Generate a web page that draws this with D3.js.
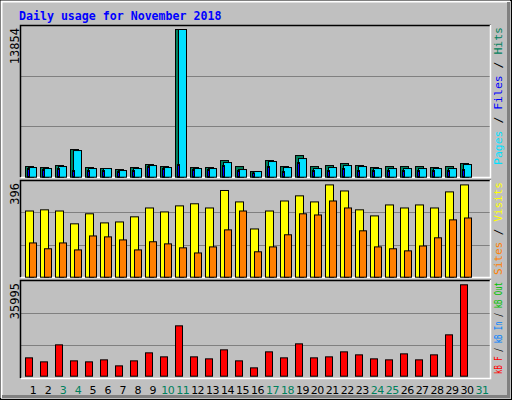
<!DOCTYPE html>
<html><head><meta charset="utf-8">
<script src="https://cdn.jsdelivr.net/npm/d3@7"></script>
<style>body{margin:0;background:#fff}</style>
</head><body>
<svg id="c" width="512" height="400"></svg>
<script>
const days = d3.range(1, 32);
const weekend = [3,4,10,11,17,18,24,25,31];
const hits  = [1000,907,1094,2595,907,813,719,907,1188,1000,13854,907,907,1563,1000,532,1563,1000,2033,1000,1094,1282,1094,907,1000,1000,1000,907,1000,1282];
const files = [907,813,1000,2500,813,813,625,813,1094,907,13854,813,813,1375,719,532,1470,907,1750,813,907,1094,1000,813,813,813,813,813,813,1188];
const pages = [813,719,813,625,625,625,532,625,1000,813,1188,719,719,1094,625,400,1000,530,1375,625,625,813,625,625,625,625,625,625,625,720];
const visits= [284,289,284,229,272,233,237,259,297,280,306,315,297,372,323,207,284,327,349,323,396,370,289,263,310,297,310,297,366,396];
const sites = [147,122,147,117,177,173,160,117,152,143,126,104,130,203,284,109,130,182,272,267,327,297,199,130,122,113,134,169,246,254];
const kbytes= [7227,5650,12350,6044,5650,6437,4073,6044,9197,7620,19837,7620,6832,10380,6044,3285,9590,7227,12744,7227,7620,9590,8408,6832,6437,8802,6437,8408,16290,35995];
const maxLabels = ["13854","396","35995"];

const svg = d3.select("#c");
const mono = "DejaVu Sans Mono, monospace";
svg.append("rect").attr("x",0.5).attr("y",0.5).attr("width",511).attr("height",399).attr("fill","#c0c0c0").attr("stroke","#000");
svg.append("path").attr("d","M1.5,398 V1.5 H510").attr("stroke","#fff").attr("stroke-width",2).attr("fill","none");
svg.append("path").attr("d","M2,396.5 H508.5 V2").attr("stroke","#808080").attr("stroke-width",3).attr("fill","none");

svg.append("text").attr("x",19).attr("y",20).attr("font-family",mono).attr("font-weight","bold")
  .attr("font-size","11.6px").attr("fill","#0000ff").text("Daily usage for November 2018");

const x = d3.scaleLinear().domain([1,30]).range([33,468]);
const panels = [
  {top:25, bottom:177, base:176.7, hmax:147.7, max:13854},
  {top:180, bottom:277, base:276.7, hmax:92.3, max:396},
  {top:280, bottom:378, base:375.7, hmax:91.4, max:35995}
];
panels.forEach((p,i)=>{
  svg.append("rect").attr("x",21).attr("y",p.top).attr("width",469).attr("height",p.bottom-p.top).attr("fill","#c0c0c0");
  const gh = (p.bottom-p.top);
  [1/3,2/3].forEach(f=>{
    const yy = Math.round(p.top + gh*f)+0.5;
    svg.append("line").attr("x1",21).attr("x2",490).attr("y1",yy).attr("y2",yy).attr("stroke","#808080");
  });
  svg.append("path").attr("d",`M20.5,${p.bottom} V${p.top+0.5} H491`).attr("stroke","#000").attr("stroke-width",1.5).attr("fill","none");
  svg.append("path").attr("d",`M21,${p.bottom+0.5} H490.5 V${p.top}`).attr("stroke","#fff").attr("stroke-width",1.5).attr("fill","none");
  svg.append("text").attr("transform",`translate(19,${p.top+3}) rotate(-90)`).attr("text-anchor","end")
    .attr("font-family",mono).attr("font-size","12px").attr("fill","#000").text(maxLabels[i]);
  p.y = d3.scaleLinear().domain([0,p.max]).range([p.base,p.base-p.hmax]);
});

function bars(data, p, dx, w, color){
  svg.append("g").selectAll("rect").data(data).join("rect")
    .attr("x",(d,i)=>x(i+1)+dx+0.5).attr("width",w)
    .attr("y",d=>p.y(d)+0.5).attr("height",d=>Math.max(0,p.base-p.y(d)))
    .attr("fill",color).attr("stroke","#000").attr("stroke-width",1);
}
bars(hits, panels[0], -8, 8, "#00805c");
bars(files, panels[0], -5, 8, "#00e0ff");
bars(pages, panels[0], -6, 2, "#0000ff");
bars(visits, panels[1], -8, 8, "#ffff00");
bars(sites, panels[1], -4, 7, "#ff8000");
bars(kbytes, panels[2], -8, 7, "#ff0000");

const xl = d3.scaleLinear().domain([1,31]).range([33,482]);
svg.append("g").selectAll("text").data(days).join("text")
  .attr("x",d=>xl(d)).attr("y",394).attr("text-anchor","middle")
  .attr("font-family","DejaVu Sans, sans-serif").attr("font-size","11px").attr("letter-spacing","-0.5")
  .attr("fill",d=>weekend.includes(d)?"#00805c":"#000").text(d=>d);

function legend(yTop, len, parts){
  const t = svg.append("text").attr("transform",`translate(502,${yTop+len}) rotate(-90)`)
    .attr("font-family",mono).attr("font-size","11px")
    .attr("textLength",len).attr("lengthAdjust","spacingAndGlyphs");
  parts.forEach(([s,c])=>t.append("tspan").attr("fill",c).text(s));
}
legend(27,138,[["Pages","#00e0ff"],[" / ","#000"],["Files","#0000ff"],[" / ","#000"],["Hits","#00805c"]]);
legend(182,93,[["Sites","#ff8000"],[" / ","#000"],["Visits","#ffff00"]]);
legend(282,92,[["kB F","#ff0000"],[" / ","#000"],["kB In","#0080ff"],[" / ","#000"],["kB Out","#00c000"]]);
</script>
</body></html>
